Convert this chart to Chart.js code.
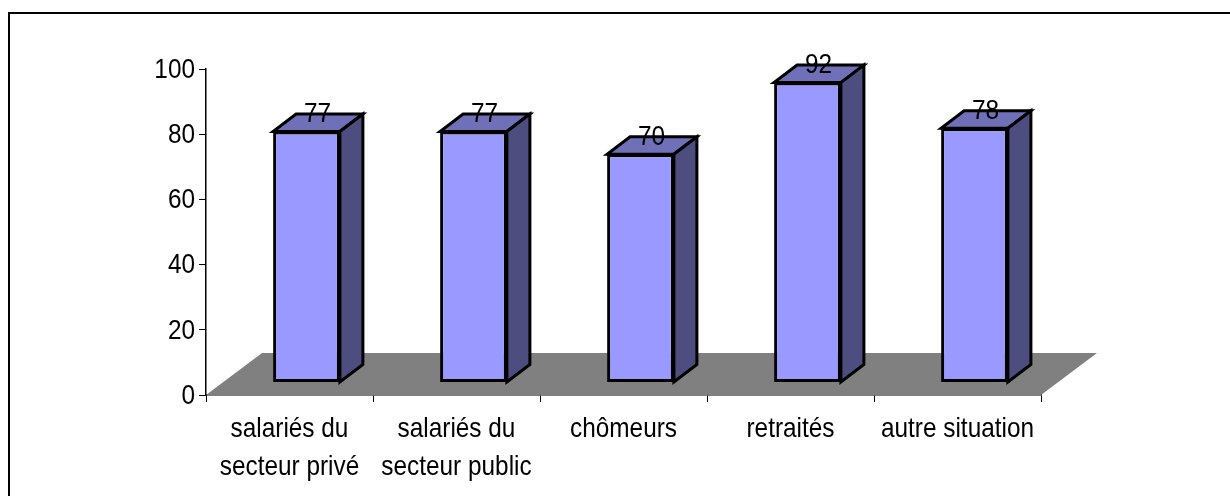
<!DOCTYPE html>
<html><head><meta charset="utf-8">
<script src="https://cdn.jsdelivr.net/npm/chart.js@4"></script>
<style>html,body{margin:0;padding:0;background:#fff;overflow:hidden}
#w{position:relative;width:1230px;height:496px;overflow:hidden}
#f{position:absolute;left:8px;top:12px;width:1230px;height:500px;border-left:2px solid #000;border-top:2px solid #000;box-sizing:border-box}
canvas{position:absolute;left:0;top:0}</style></head>
<body><div id="w"><div id="f"></div><canvas id="c" width="1230" height="496"></canvas></div>
<script>
const categories = [["salariés du","secteur privé"],["salariés du","secteur public"],["chômeurs"],["retraités"],["autre situation"]];
const values = [77,77,70,92,78];
const yTicks = [0,20,40,60,80,100];
const FONT = '"Liberation Sans",Arial,sans-serif';
const FS = 28, SX = 0.87, LINE = 38.5;
const front = {dx:17,dy:-12.5}, depth = {dx:23,dy:-17.5}, floor = {dx:56,dy:-42};
function poly(ctx,pts,fill,stroke,lw){
  ctx.beginPath();pts.forEach((p,i)=>i?ctx.lineTo(p[0],p[1]):ctx.moveTo(p[0],p[1]));ctx.closePath();
  if(fill){ctx.fillStyle=fill;ctx.fill();}
  if(stroke){ctx.strokeStyle=stroke;ctx.lineWidth=lw;ctx.lineJoin='miter';ctx.stroke();}
}
function narrowText(ctx,txt,x,y,align){
  ctx.save();
  ctx.translate(x,y);ctx.scale(SX,1);
  ctx.fillStyle='#000';ctx.textAlign=align;ctx.textBaseline='middle';
  ctx.font=FS+'px '+FONT;
  ctx.fillText(txt,0,0);
  ctx.restore();
}
const bar3d = {
  id:'bar3d',
  beforeDatasetsDraw(chart){
    const {ctx,chartArea:a}=chart;
    poly(ctx,[[a.left,a.bottom],[a.right,a.bottom],[a.right+floor.dx,a.bottom+floor.dy],[a.left+floor.dx,a.bottom+floor.dy]],'#808080');
  },
  beforeDatasetDraw(chart,args){
    const ctx=chart.ctx;
    ctx.save();
    ctx.translate(front.dx,front.dy);
    chart.getDatasetMeta(args.index).data.forEach(b=>{
      const l=b.x-b.width/2,r=b.x+b.width/2,t=b.y,bt=b.base;
      poly(ctx,[[l,t],[r,t],[r+depth.dx,t+depth.dy],[l+depth.dx,t+depth.dy]],'#7070b8','#000',3);
      poly(ctx,[[r,t],[r+depth.dx,t+depth.dy],[r+depth.dx,bt+depth.dy],[r,bt]],'#4d4d80','#000',3);
    });
  },
  afterDatasetDraw(chart,args){
    chart.ctx.restore();
    chart.getDatasetMeta(args.index).data.forEach((b,i)=>{
      narrowText(chart.ctx,String(values[i]),b.x+front.dx+11,b.y+front.dy-17,'center');
    });
  },
  afterDraw(chart){
    const {ctx,scales:{x,y}}=chart;
    y.ticks.forEach((t,i)=>narrowText(ctx,String(t.value),195,y.getPixelForTick(i)+1,'right'));
    categories.forEach((c,i)=>c.forEach((line,j)=>
      narrowText(ctx,line,x.getPixelForTick(i),429+j*LINE,'center')));
  }
};
new Chart(document.getElementById('c'),{
  type:'bar',
  data:{labels:categories,datasets:[{data:values,backgroundColor:'#9999ff',borderColor:'#000',borderWidth:3,
    barPercentage:0.4,categoryPercentage:1,borderSkipped:false}]},
  options:{responsive:false,animation:false,
    layout:{padding:{left:0,right:189,top:69,bottom:0}},
    plugins:{legend:{display:false},tooltip:{enabled:false},title:{display:false}},
    scales:{
      x:{grid:{offset:true,drawOnChartArea:false,color:'#000',tickLength:7,tickColor:'#000'},
        border:{color:'#000',width:1.5},
        afterFit(s){s.height=101;},
        ticks:{color:'rgba(0,0,0,0)',font:{family:FONT,size:FS},autoSkip:false,maxRotation:0,minRotation:0}},
      y:{min:0,max:100,afterBuildTicks(s){s.ticks=yTicks.map(v=>({value:v}));},
        grid:{drawOnChartArea:false,color:'#000',tickLength:7},
        border:{color:'#000',width:1.5},
        afterFit(s){s.width=206;},
        ticks:{color:'rgba(0,0,0,0)',font:{family:FONT,size:FS}}}
    }
  },
  plugins:[bar3d]
});
</script></body></html>
